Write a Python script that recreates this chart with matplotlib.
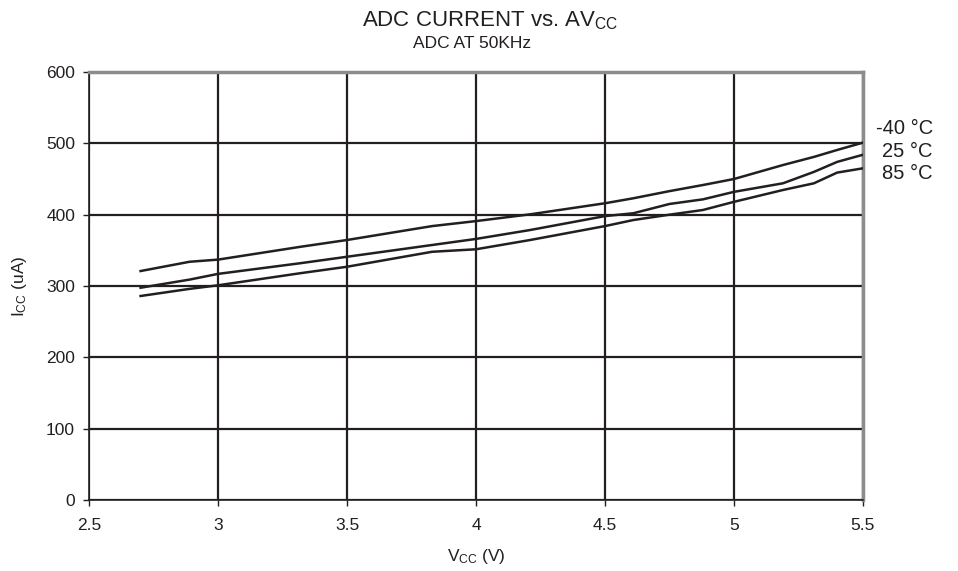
import matplotlib
matplotlib.use("Agg")
import matplotlib.pyplot as plt

plt.rcParams["font.family"] = ["Liberation Sans", "DejaVu Sans"]
plt.rcParams["mathtext.default"] = "regular"

# supply voltage (V)
vcc = [2.7, 2.89, 3.0, 3.32, 3.5, 3.83, 4.0, 4.21, 4.5, 4.61, 4.75, 4.88, 5.0, 5.19, 5.31, 5.4, 5.5]
# ADC current (uA) per temperature
icc_m40 = [321, 334, 337, 355, 364.5, 384, 391, 400.5, 416, 423, 433, 441.6, 450, 469.6, 481, 490.7, 501]
icc_25 = [297.6, 309, 317, 332, 341, 357.5, 366, 378.5, 398, 402, 415, 421.5, 432, 444, 460, 474, 484]
icc_85 = [286, 296, 301, 318, 327, 348, 351.5, 364.5, 384, 392.5, 400, 406.6, 418, 434.6, 444, 459, 465]
temps = ["-40 °C", "25 °C", "85 °C"]

x_ticks = [2.5, 3, 3.5, 4, 4.5, 5, 5.5]
y_ticks = [0, 100, 200, 300, 400, 500, 600]

INK = "#231f20"

fig = plt.figure(figsize=(9.58, 5.71), dpi=100)
ax = fig.add_axes([0.0929, 0.1243, 0.8079, 0.7496])

for ys in (icc_m40, icc_25, icc_85):
    ax.plot(vcc, ys, color=INK, linewidth=1.8, zorder=3)

ax.set_xlim(2.5, 5.5)
ax.set_ylim(0, 600)
ax.set_xticks(x_ticks)
ax.set_xticklabels([f"{v:g}" for v in x_ticks])
ax.set_yticks(y_ticks)
ax.grid(True, color=INK, linewidth=1.6)
ax.tick_params(direction="out", length=4, width=1, colors=INK,
               labelsize=12.5, labelcolor=INK)
ax.tick_params(axis="x", pad=9)
ax.tick_params(axis="y", pad=6)

for side in ("left", "bottom"):
    ax.spines[side].set_color(INK)
    ax.spines[side].set_linewidth(1.2)
for side in ("top", "right"):
    ax.spines[side].set_color("#8a8c8e")
    ax.spines[side].set_linewidth(2.5)

ax.set_xlabel("V$_{CC}$ (V)", fontsize=12.5, color=INK, labelpad=10)
ax.set_ylabel("I$_{CC}$ (uA)", fontsize=12.5, color=INK, labelpad=12)

# temperature labels at right end of curves
fig.text(876 / 958, 1 - 129 / 571, temps[0], fontsize=14.5, color=INK, va="center")
fig.text(882 / 958, 1 - 151 / 571, temps[1], fontsize=14.5, color=INK, va="center")
fig.text(882 / 958, 1 - 174 / 571, temps[2], fontsize=14.5, color=INK, va="center")

fig.text(490 / 958, 1 - 21 / 571, "ADC CURRENT vs. AV$_{CC}$", fontsize=16,
         color=INK, ha="center", va="center")
fig.text(472 / 958, 1 - 43 / 571, "ADC AT 50KHz", fontsize=12.5,
         color=INK, ha="center", va="center")

fig.savefig("out.png", dpi=100)
